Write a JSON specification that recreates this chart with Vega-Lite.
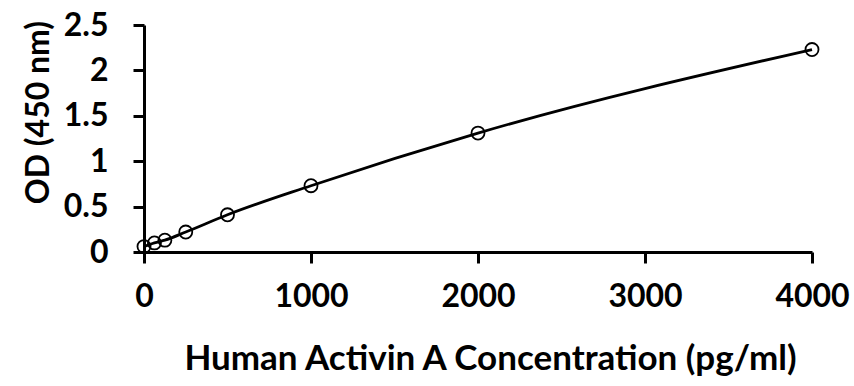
{
  "$schema": "https://vega.github.io/schema/vega-lite/v6.json",
  "autosize": {"type": "none"},
  "width": 668,
  "height": 227,
  "padding": {"left": 144, "top": 25, "right": 42, "bottom": 134},
  "background": "white",
  "config": {
    "view": {"stroke": null},
    "font": "Lato"
  },
  "data": {
    "values": [
      {"conc": 0, "od": 0.06},
      {"conc": 62.5, "od": 0.10},
      {"conc": 125, "od": 0.13},
      {"conc": 250, "od": 0.22},
      {"conc": 500, "od": 0.41},
      {"conc": 1000, "od": 0.73},
      {"conc": 2000, "od": 1.31},
      {"conc": 4000, "od": 2.23}
    ]
  },
  "encoding": {
    "x": {
      "field": "conc", "type": "quantitative",
      "scale": {"domain": [0, 4000], "nice": false, "zero": false},
      "axis": {
        "title": "Human Activin A Concentration (pg/ml)",
        "values": [0, 1000, 2000, 3000, 4000],
        "format": "d",
        "grid": false,
        "domainColor": "black", "domainWidth": 3,
        "tickColor": "black", "tickWidth": 3, "tickSize": 11,
        "labelFont": "Lato", "labelFontSize": 32, "labelFontWeight": "bold", "labelColor": "black",
        "labelPadding": 18, "labelFlush": false,
        "titleFont": "Lato", "titleFontSize": 35, "titleFontWeight": "bold", "titleColor": "black",
        "titlePadding": 29,
        "titleX": 346
      }
    },
    "y": {
      "field": "od", "type": "quantitative",
      "scale": {"domain": [0, 2.5], "nice": false},
      "axis": {
        "title": "OD (450 nm)",
        "values": [0, 0.5, 1, 1.5, 2, 2.5],
        "format": "~g",
        "grid": false,
        "domainColor": "black", "domainWidth": 3,
        "tickColor": "black", "tickWidth": 3, "tickSize": 11,
        "labelFont": "Lato", "labelFontSize": 32, "labelFontWeight": "bold", "labelColor": "black",
        "labelPadding": 25, "labelFlush": false,
        "titleFont": "Lato", "titleFontSize": 32, "titleFontWeight": "bold", "titleColor": "black",
        "titlePadding": 8,
        "titleY": 87
      }
    }
  },
  "layer": [
    {
      "mark": {"type": "line", "color": "black", "strokeWidth": 2.8, "interpolate": "monotone"}
    },
    {
      "mark": {"type": "point", "shape": "circle", "size": 170, "filled": false, "color": "black", "fill": "white", "fillOpacity": 0, "strokeWidth": 1.8, "opacity": 1}
    }
  ]
}
